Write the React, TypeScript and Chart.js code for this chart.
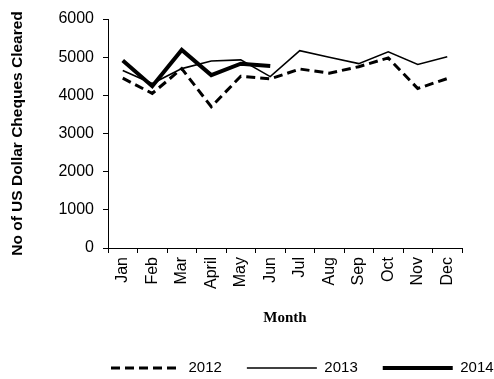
import React, { useEffect, useRef } from 'react';
import { Chart, registerables } from 'chart.js';

Chart.register(...registerables);

const months = ['Jan', 'Feb', 'Mar', 'April', 'May', 'Jun', 'Jul', 'Aug', 'Sep', 'Oct', 'Nov', 'Dec'];
const values2012 = [4450, 4050, 4700, 3700, 4500, 4430, 4690, 4580, 4750, 4980, 4180, 4440];
const values2013 = [4650, 4310, 4700, 4900, 4930, 4490, 5170, 5000, 4830, 5140, 4810, 5010];
const values2014 = [4910, 4240, 5190, 4530, 4830, 4770];
const seriesNames = ['2012', '2013', '2014'];
const yMin = 0;
const yMax = 6000;
const yStep = 1000;

const W = 494;
const H = 379;
const LEGEND_FONT = 15;
const LEGEND_PAD = 25;

export default function App() {
  const ref = useRef<HTMLCanvasElement>(null);

  useEffect(() => {
    if (!ref.current) return;
    const legendShift = {
      id: 'legendShift',
      afterLayout(chart: any) {
        const lg = chart.legend;
        if (!lg || !lg.lineWidths) return;
        const startX = (lg.left + LEGEND_PAD + lg.right - lg.lineWidths[0]) / 2;
        const dx = 111 - startX;
        const dy = 368 - (lg.top + LEGEND_PAD + LEGEND_FONT / 2);
        lg.left += dx;
        lg.right += dx;
        lg.top += dy;
        lg.bottom += dy;
      },
    };

    const defaultLabels = (Chart as any).defaults.plugins.legend.labels.generateLabels;

    const chart = new Chart(ref.current, {
      type: 'line',
      data: {
        labels: months,
        datasets: [
          {
            label: seriesNames[0],
            data: values2012,
            borderColor: '#000',
            backgroundColor: '#000',
            borderWidth: 3,
            borderDash: [9, 5],
            pointRadius: 0,
            tension: 0,
            fill: false,
          },
          {
            label: seriesNames[1],
            data: values2013,
            borderColor: '#000',
            backgroundColor: '#000',
            borderWidth: 1.6,
            pointRadius: 0,
            tension: 0,
            fill: false,
          },
          {
            label: seriesNames[2],
            data: values2014,
            borderColor: '#000',
            backgroundColor: '#000',
            borderWidth: 4,
            pointRadius: 0,
            tension: 0,
            fill: false,
          },
        ],
      },
      options: {
        animation: false,
        responsive: false,
        devicePixelRatio: 1,
        layout: { padding: { top: 19, right: 32, left: 0, bottom: 0 } },
        plugins: {
          legend: {
            position: 'bottom',
            labels: {
              usePointStyle: true,
              pointStyle: 'line',
              pointStyleWidth: 70,
              boxWidth: 70,
              padding: LEGEND_PAD,
              color: '#000',
              font: { family: '"Liberation Sans", Arial, sans-serif', size: LEGEND_FONT },
              generateLabels(c: any) {
                const items = defaultLabels(c);
                items.forEach((it: any) => {
                  const ds = c.data.datasets[it.datasetIndex];
                  it.lineDash = ds.borderDash || [];
                  it.lineWidth = ds.borderWidth;
                  it.strokeStyle = ds.borderColor;
                });
                return items;
              },
            },
          },
          tooltip: { enabled: false },
        },
        scales: {
          x: {
            offset: true,
            grid: {
              offset: true,
              drawOnChartArea: false,
              drawTicks: true,
              tickLength: 5,
              color: '#000',
            },
            border: { display: true, color: '#000', width: 1 },
            ticks: {
              minRotation: 90,
              maxRotation: 90,
              autoSkip: false,
              padding: 4,
              color: '#000',
              font: { family: '"Liberation Sans", Arial, sans-serif', size: 16 },
            },
            title: {
              display: true,
              text: 'Month',
              color: '#000',
              padding: { top: 0, bottom: 2 },
              font: { family: '"Liberation Serif", "Times New Roman", serif', size: 15, weight: 'bold' },
            },
            afterFit(scale: any) {
              scale.height = 81;
              scale.paddingLeft = 0;
              scale.paddingRight = 0;
            },
          },
          y: {
            min: yMin,
            max: yMax,
            grid: {
              drawOnChartArea: false,
              drawTicks: true,
              tickLength: 5,
              color: '#000',
            },
            border: { display: true, color: '#000', width: 1 },
            ticks: {
              stepSize: yStep,
              padding: 9,
              color: '#000',
              font: { family: '"Liberation Sans", Arial, sans-serif', size: 16 },
              callback: (v: any) => String(v),
            },
            title: {
              display: true,
              text: 'No of US Dollar Cheques Cleared',
              color: '#000',
              padding: { top: 8, bottom: 0 },
              font: { family: '"Liberation Sans", Arial, sans-serif', size: 15.5, weight: 'bold' },
            },
            afterFit(scale: any) {
              scale.width = 108;
              scale.paddingTop = 0;
              scale.paddingBottom = 0;
            },
          },
        },
      },
      plugins: [legendShift],
    } as any);

    return () => chart.destroy();
  }, []);

  return (
    <div style={{ position: 'absolute', left: 0, top: 0, width: W, height: H, background: '#fff' }}>
      <canvas ref={ref} width={W} height={H} style={{ display: 'block', width: W, height: H }} />
    </div>
  );
}
